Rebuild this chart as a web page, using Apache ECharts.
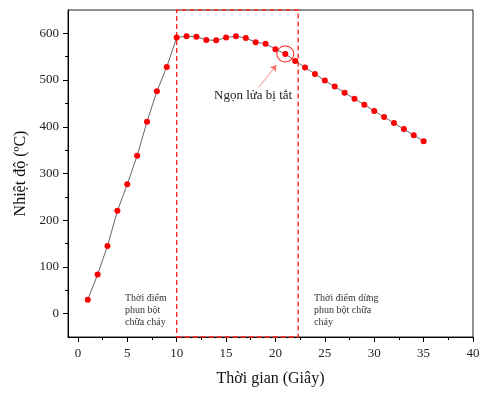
<!DOCTYPE html>
<html>
<head>
<meta charset="utf-8">
<script src="https://cdn.jsdelivr.net/npm/echarts@6/dist/echarts.min.js"></script>
<style>
  html, body { margin: 0; padding: 0; background: #fff; }
  #chart { width: 486px; height: 393px; }
</style>
</head>
<body>
<div id="chart"></div>
<script>
// thoi gian (giay) va nhiet do
const times = [1, 2, 3, 4, 5, 6, 7, 8, 9, 10, 11, 12, 13, 14, 15, 16, 17, 18,
  19, 20, 21, 22, 23, 24, 25, 26, 27, 28, 29, 30, 31, 32, 33, 34, 35];
const temps = [30, 84, 145, 220, 277, 338, 411, 476, 528, 591, 594, 593, 586, 585, 591, 594, 590, 581,
  578, 566, 556, 541, 527, 513, 499, 486, 473, 460, 447, 434, 421, 408, 395, 382, 369];

const xMajorTicks = [0, 5, 10, 15, 20, 25, 30, 35, 40];
const xMinorTicks = [2.5, 7.5, 12.5, 17.5, 22.5, 27.5, 32.5, 37.5];
const yMajorTicks = [0, 100, 200, 300, 400, 500, 600];
const yMinorTicks = [50, 150, 250, 350, 450, 550];

const sprayStart = 10;
const sprayEnd = 22.3;
const flameOut = [21, 556];
const arrowFrom = [18.3, 484];
const arrowTo = [20.1, 532];

const serif = '"Liberation Serif", "DejaVu Serif", serif';

const myChart = echarts.init(document.getElementById('chart'));
const data = times.map((t, i) => [t, temps[i]]);

myChart.setOption({
  animation: false,
  textStyle: { fontFamily: serif },
  grid: {
    left: 68, right: 13, top: 10, bottom: 56,
    show: true, borderColor: '#222', borderWidth: 1,
  },
  xAxis: [
    {
      type: 'value', min: -1, max: 40,
      name: 'Thời gian (Giây)', nameLocation: 'middle', nameGap: 34,
      nameTextStyle: { fontFamily: serif, fontSize: 16, color: '#111' },
      axisLine: { show: true, onZero: false, lineStyle: { color: '#000', width: 1 } },
      axisTick: { show: true, length: 5, customValues: xMajorTicks, lineStyle: { color: '#000' } },
      axisLabel: { customValues: xMajorTicks, margin: 10, fontFamily: serif, fontSize: 13, color: '#222' },
      splitLine: { show: false },
    },
    {
      type: 'value', min: -1, max: 40, position: 'bottom',
      axisLine: { show: false, onZero: false },
      axisTick: { show: true, length: 3, customValues: xMinorTicks, lineStyle: { color: '#000' } },
      axisLabel: { show: false },
      splitLine: { show: false },
    },
  ],
  yAxis: [
    {
      type: 'value', min: -50, max: 650,
      name: 'Nhiệt độ (ºC)', nameLocation: 'middle', nameGap: 35, nameRotate: 90,
      nameTextStyle: { fontFamily: serif, fontSize: 16, color: '#111' },
      axisLine: { show: true, onZero: false, lineStyle: { color: '#000', width: 1 } },
      axisTick: { show: true, length: 5, customValues: yMajorTicks, lineStyle: { color: '#000' } },
      axisLabel: { customValues: yMajorTicks, margin: 9, fontFamily: serif, fontSize: 13, color: '#222' },
      splitLine: { show: false },
    },
    {
      type: 'value', min: -50, max: 650, position: 'left',
      axisLine: { show: false, onZero: false },
      axisTick: { show: true, length: 3, customValues: yMinorTicks, lineStyle: { color: '#000' } },
      axisLabel: { show: false },
      splitLine: { show: false },
    },
  ],
  series: [
    {
      type: 'line',
      data: data,
      symbol: 'circle',
      symbolSize: 6,
      itemStyle: { color: '#ff0000' },
      lineStyle: { color: '#666', width: 1 },
      markArea: {
        silent: true,
        itemStyle: {
          color: 'rgba(0,0,0,0)',
          borderColor: '#ff2020',
          borderWidth: 1.3,
          borderType: [5, 3],
        },
        data: [[{ xAxis: sprayStart }, { xAxis: sprayEnd }]],
      },
      markPoint: {
        silent: true,
        symbol: 'circle',
        symbolSize: [17, 16],
        itemStyle: { color: 'rgba(0,0,0,0)', borderColor: '#ff2020', borderWidth: 1 },
        label: { show: false },
        data: [{ coord: flameOut }],
      },
      markLine: {
        silent: true,
        symbol: ['none', 'arrow'],
        symbolSize: 6,
        lineStyle: { color: '#ff7070', width: 0.8, type: 'solid' },
        label: { show: false },
        data: [[{ coord: arrowFrom }, { coord: arrowTo }]],
      },
    },
  ],
  graphic: [
    {
      type: 'text', left: 214, top: 89,
      style: { text: 'Ngọn lửa bị tắt', font: '13px ' + serif, fill: '#222' },
    },
    {
      type: 'text', left: 125, top: 292,
      style: { text: 'Thời điểm\nphun bột\nchữa cháy', font: '10px ' + serif, lineHeight: 12, fill: '#333' },
    },
    {
      type: 'text', left: 314, top: 292,
      style: { text: 'Thời điểm dừng\nphun bột chữa\ncháy', font: '10px ' + serif, lineHeight: 12, fill: '#333' },
    },
  ],
});
window.onresize = function () {
  myChart.resize();
};
</script>
</body>
</html>
